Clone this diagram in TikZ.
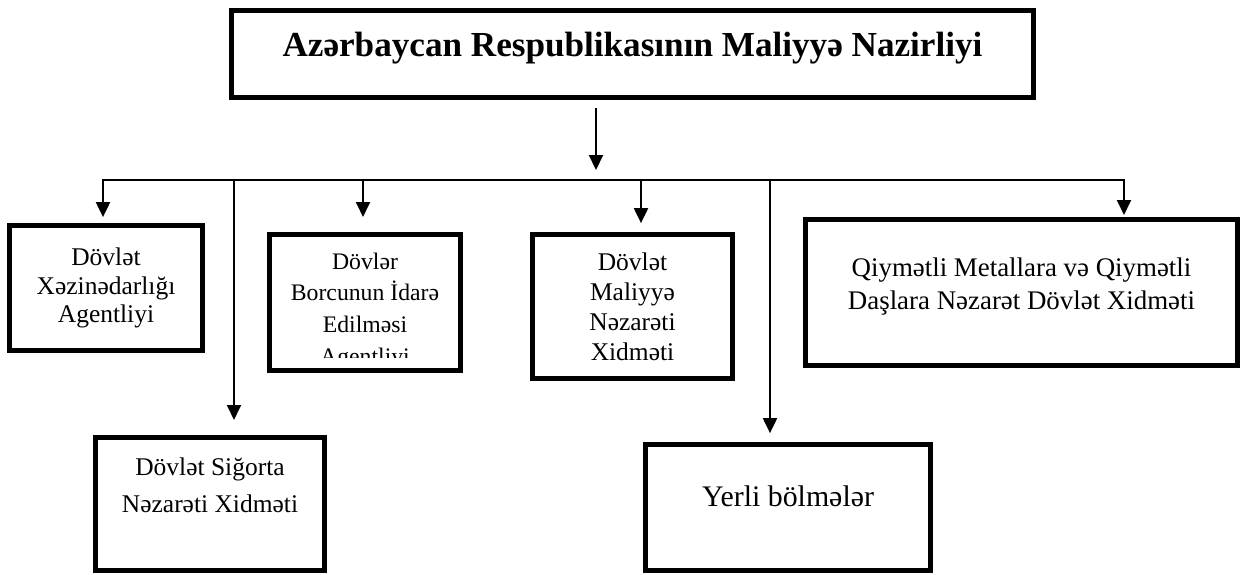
\documentclass[tikz,border=0pt]{standalone}
\usepackage{fontspec}
\setmainfont{Liberation Serif}
\usetikzlibrary{arrows.meta, positioning}
\tikzstyle{unit} = [rectangle, draw=black, line width=0.1cm, outer sep=0pt, inner sep=0pt, align=center]
\tikzstyle{arrow} = [line width=1pt, ->]
\tikzstyle{frame} = [line width=0.1cm]

\begin{document}
\begin{tikzpicture}[x=0.02cm, y=-0.02cm, >={Triangle[length=8.5pt,width=8pt]}]
\useasboundingbox (0,0) rectangle (1242,575);
% Define nodes
\node (nazirlik) [unit, minimum width=16.04cm, minimum height=1.74cm, font=\bfseries\fontsize{20pt}{24pt}\selectfont, text height=14pt, text depth=11.7pt] at (632.5,54) {Azərbaycan Respublikasının Maliyyə Nazirliyi};
\node (xezine) [unit, minimum width=3.86cm, minimum height=2.5cm, font=\fontsize{14.5pt}{16.3pt}\selectfont] at (106,288) {Dövlət\\Xəzinədarlığı\\Agentliyi};
\begin{scope}
\clip (260,200) rectangle (470,357);
\node (borc) [unit, draw=none, minimum width=3.82cm, minimum height=2.72cm, font=\fontsize{13.5pt}{18pt}\selectfont] at (365,302.5) {\mbox{}\\[1pt]Dövlər\\Borcunun İdarə\\Edilməsi\\Agentliyi};
\end{scope}
\draw [frame] (borc.south west) rectangle (borc.north east);
\node (maliyye) [unit, minimum width=4cm, minimum height=2.88cm, font=\fontsize{14.5pt}{17pt}\selectfont] at (632.5,306.5) {Dövlət\\Maliyyə\\Nəzarəti\\Xidməti};
\node (qiymetli) [unit, minimum width=8.64cm, minimum height=2.92cm, font=\fontsize{15.3pt}{18.8pt}\selectfont] at (1021.5,292.5) {Qiymətli Metallara və Qiymətli\\Daşlara Nəzarət Dövlət Xidməti\\[-8.5pt]\mbox{}};
\node (sigorta) [unit, minimum width=4.58cm, minimum height=2.66cm, font=\fontsize{14.5pt}{21pt}\selectfont] at (210,504) {Dövlət Siğorta\\Nəzarəti Xidməti\\\mbox{}};
\node (yerli) [unit, minimum width=5.7cm, minimum height=2.52cm, font=\fontsize{17pt}{19pt}\selectfont, text height=11.5pt, text depth=13.2pt] at (788,507.5) {Yerli bölmələr};
% Bus and drop points
\coordinate (hub) at (596,180);
\coordinate (d1) at (103,180);
\coordinate (d5) at (234,180);
\coordinate (d2) at (363,180);
\coordinate (d3) at (641,180);
\coordinate (d6) at (770,180);
\coordinate (d4) at (1124,180);
% Connect nodes with arrows
\draw [arrow, shorten <=6pt, shorten >=5.7pt] (nazirlik.south -| hub) -- (hub);
\draw [arrow, <->, shorten <=4.8pt, shorten >=2.6pt] (d1 |- xezine.north) -- (d1) -- (d4) -- (d4 |- qiymetli.north);
\draw [arrow, shorten >=10pt] (d5) -- (d5 |- sigorta.north);
\draw [arrow, shorten >=10pt] (d2) -- (d2 |- borc.north);
\draw [arrow, shorten >=6.5pt] (d3) -- (d3 |- maliyye.north);
\draw [arrow, shorten >=6.5pt] (d6) -- (d6 |- yerli.north);
\end{tikzpicture}
\end{document}
